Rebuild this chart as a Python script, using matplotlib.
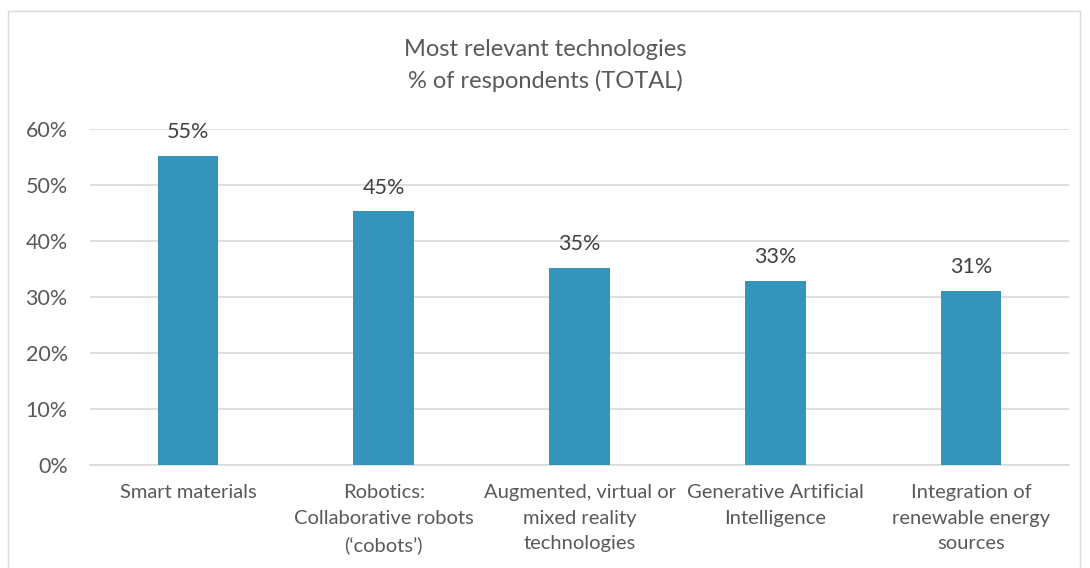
import matplotlib.pyplot as plt
from matplotlib.patches import Rectangle
from matplotlib.ticker import PercentFormatter

plt.rcParams['font.family'] = ['Lato', 'DejaVu Sans']

categories = ["Smart materials",
              "Robotics:\nCollaborative robots\n(\u2018cobots\u2019)",
              "Augmented, virtual or\nmixed reality\ntechnologies",
              "Generative Artificial\nIntelligence",
              "Integration of\nrenewable energy\nsources"]
values = [55.2, 45.3, 35.2, 32.9, 31.1]
labels = ["55%", "45%", "35%", "33%", "31%"]
yticks = [0, 10, 20, 30, 40, 50, 60]

fig = plt.figure(figsize=(10.9, 5.68), dpi=100)
# outer chart border
fig.patches.append(Rectangle((8 / 1090, -0.01), 1072 / 1090, 1 - 11 / 568 + 0.01,
                             transform=fig.transFigure, fill=False,
                             edgecolor='#d9d9d9', linewidth=1))

ax = fig.add_axes([90 / 1090, 1 - 465 / 568, 979 / 1090, 336 / 568])
x = range(len(categories))
bars = ax.bar(x, values, width=0.31, color='#3594bb', zorder=3)
for b, lab in zip(bars, labels):
    ax.text(b.get_x() + b.get_width() / 2, b.get_height() + 2.4, lab,
            ha='center', va='bottom', fontsize=15.5, color='#404040')

ax.set_xlim(-0.5, len(categories) - 0.5)
ax.set_ylim(0, 60)
ax.set_yticks(yticks)
ax.yaxis.set_major_formatter(PercentFormatter(decimals=0))
ax.set_xticks(list(x))
ax.set_xticklabels(categories, fontsize=14.5, color='#595959', linespacing=1.6)
ax.tick_params(axis='y', labelsize=15.5, labelcolor='#595959', length=0, pad=16)
ax.tick_params(axis='x', length=0, pad=14)
ax.grid(axis='y', color='#d9d9d9', linewidth=1.2, zorder=0)
for s in ['top', 'right', 'left']:
    ax.spines[s].set_visible(False)
ax.spines['bottom'].set_color('#d9d9d9')
ax.spines['bottom'].set_linewidth(1.2)

fig.text(545 / 1090, 1 - 49 / 568, "Most relevant technologies", ha='center',
         va='center', fontsize=17, color='#595959')
fig.text(545 / 1090, 1 - 81 / 568, "% of respondents (TOTAL)", ha='center',
         va='center', fontsize=17, color='#595959')

fig.savefig("out.png", dpi=100)
